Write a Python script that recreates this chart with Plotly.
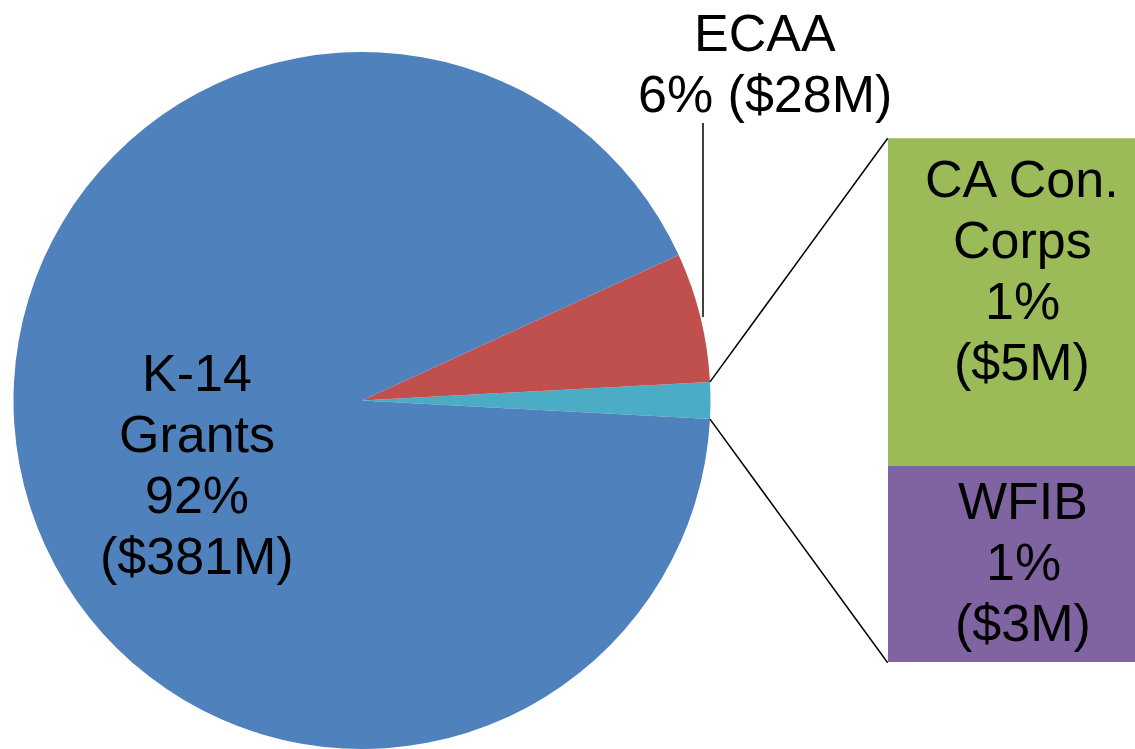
import math
import plotly.graph_objects as go

# ---- data ----
pie_labels = ["Other", "ECAA", "K-14 Grants"]
pie_shares = [1.7, 6.0, 92.3]          # % of the pie (slice sizes as drawn)
pie_colors = ["#4BACC6", "#C0504D", "#4F81BD"]

bar_labels = ["WFIB", "CA Con. Corps"]  # bottom -> top
bar_values = [3, 5]                     # $M
bar_colors = ["#8064A2", "#9BBB59"]

label_k14 = ["K-14", "Grants", "92%", "($381M)"]
label_ecaa = ["ECAA", "6% ($28M)"]
label_cacc = ["CA Con.", "Corps", "1%", "($5M)"]
label_wfib = ["WFIB", "1%", "($3M)"]

W, H = 1135, 749
FONT = "Liberation Sans, Arial, sans-serif"
FS = 52
LINE = 61  # px between text lines

# ---- layout geometry ----
pie_dom_y = [0.0, 697 / H]
pie_h = (pie_dom_y[1] - pie_dom_y[0]) * H
cx_px = 362.0
pie_dom_x = [(cx_px - pie_h / 2) / W, (cx_px + pie_h / 2) / W]
bar_dom_x = [887.7 / W, 1.0]
bar_dom_y = [(H - 662.7) / H, (H - 138.3) / H]

other_deg = pie_shares[0] / sum(pie_shares) * 360
rotation = 90 - other_deg / 2   # first slice occupies [rotation, rotation+angle] clockwise from 12 o'clock

fig = go.Figure()
fig.add_trace(go.Pie(
    labels=pie_labels, values=pie_shares, sort=False, direction="counterclockwise",
    rotation=rotation, marker=dict(colors=pie_colors, line=dict(width=0)),
    textinfo="none", hoverinfo="label+percent", showlegend=False,
    domain=dict(x=pie_dom_x, y=pie_dom_y),
))
for lab, val, col in zip(bar_labels, bar_values, bar_colors):
    fig.add_trace(go.Bar(x=["Other"], y=[val], name=lab, marker=dict(color=col, line=dict(width=0)),
                         showlegend=False, xaxis="x", yaxis="y"))

# pie centre / radius -> connector lines
R = pie_h / 2
cy_px = H - (pie_dom_y[0] + pie_dom_y[1]) / 2 * H
half = math.radians(other_deg / 2)
p_top = (cx_px + R * math.cos(half), cy_px - R * math.sin(half))
p_bot = (cx_px + R * math.cos(half), cy_px + R * math.sin(half))


def to_paper(px, py):
    return px / W, 1 - py / H


shapes = []
for p, by in [(p_top, bar_dom_y[1]), (p_bot, bar_dom_y[0])]:
    x0, y0 = to_paper(*p)
    shapes.append(dict(type="line", xref="paper", yref="paper", x0=x0, y0=y0,
                       x1=bar_dom_x[0], y1=by, line=dict(color="black", width=1.5)))
# ECAA leader line
lx, ly0 = to_paper(703, 123)
_, ly1 = to_paper(703, 317)
shapes.append(dict(type="line", xref="paper", yref="paper", x0=lx, y0=ly0, x1=lx, y1=ly1,
                   line=dict(color="black", width=1.5)))


def block(lines, xpx, first_ypx):
    out = []
    for i, t in enumerate(lines):
        x, y = to_paper(xpx, first_ypx + i * LINE)
        out.append(dict(text=t, x=x, y=y, xref="paper", yref="paper", xanchor="center",
                        yanchor="middle", showarrow=False,
                        font=dict(family=FONT, size=FS, color="black")))
    return out


annotations = (block(label_k14, 197, 373) + block(label_ecaa, 765, 33)
               + block(label_cacc, 1022, 179) + block(label_wfib, 1023, 501))

fig.update_layout(
    width=W, height=H, margin=dict(l=0, r=0, t=0, b=0),
    paper_bgcolor="white", plot_bgcolor="rgba(0,0,0,0)",
    barmode="stack", bargap=0,
    xaxis=dict(domain=bar_dom_x, visible=False, fixedrange=True),
    yaxis=dict(domain=bar_dom_y, range=[0, sum(bar_values)], visible=False, fixedrange=True),
    shapes=shapes, annotations=annotations,
    font=dict(family=FONT),
)
fig.write_html("out.html", config={"displayModeBar": False},
               post_script="document.body.style.margin='0';document.body.style.overflow='hidden';")
